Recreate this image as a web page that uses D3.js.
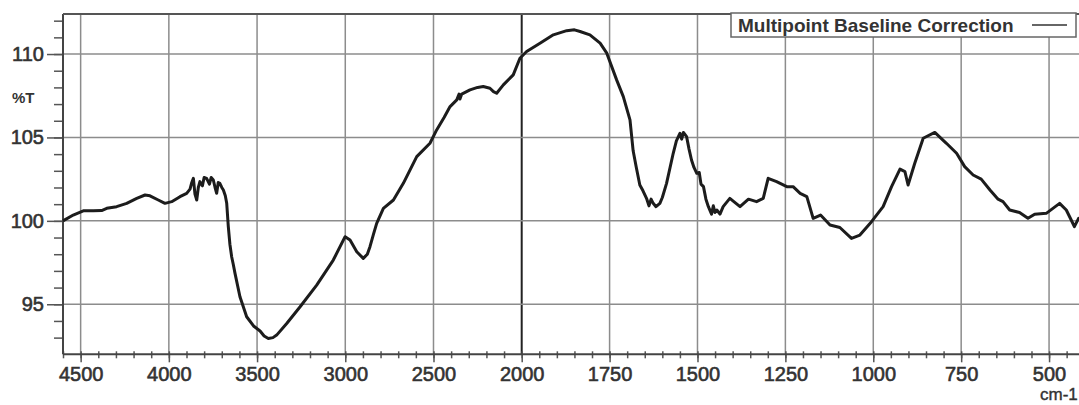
<!DOCTYPE html>
<html><head><meta charset="utf-8">
<script src="https://cdn.jsdelivr.net/npm/d3@7"></script>
<style>
html,body{margin:0;padding:0;background:#fff;}
svg{display:block;font-family:"Liberation Sans",Arial,sans-serif;}
</style></head>
<body><svg id="c" width="1079" height="405"></svg>
<script>
const wavenumber = [4600,4542,4485,4428,4381,4352,4296,4239,4182,4135,4107,4060,4022,3984,3937,3899,3880,3870,3861,3852,3842,3833,3824,3810,3800,3786,3770,3760,3748,3738,3729,3720,3711,3700,3691,3680,3672,3663,3654,3644,3635,3625,3597,3559,3520,3483,3460,3436,3410,3389,3332,3256,3162,3068,3001,2973,2935,2898,2875,2860,2840,2822,2784,2727,2671,2595,2520,2482,2440,2406,2368,2355,2350,2340,2293,2250,2218,2180,2160,2142,2104,2048,2010,1986,1948,1910,1872,1850,1834,1806,1777,1758,1730,1711,1692,1683,1674,1664,1655,1645,1638,1632,1626,1618,1607,1600,1588,1569,1560,1550,1545,1540,1531,1524,1517,1510,1502,1495,1490,1483,1476,1469,1460,1455,1450,1445,1436,1427,1408,1379,1355,1332,1313,1299,1275,1246,1228,1208,1189,1171,1150,1123,1095,1062,1038,1005,972,948,924,910,901,882,858,825,792,763,740,716,693,668,645,631,612,584,560,541,508,489,470,451,437,428,416,412];
const transmittance = [100.0,100.35,100.6,100.6,100.62,100.75,100.85,101.05,101.35,101.55,101.5,101.25,101.05,101.15,101.45,101.65,101.9,102.3,102.55,101.6,101.25,102.0,102.35,102.1,102.6,102.55,102.2,102.6,102.45,102.0,101.65,102.3,102.25,102.0,101.85,101.5,101.05,99.65,98.6,97.85,97.4,96.85,95.45,94.25,93.7,93.4,93.1,92.95,93.0,93.15,93.85,94.85,96.15,97.65,99.05,98.85,98.15,97.75,98.0,98.45,99.2,99.85,100.75,101.25,102.25,103.85,104.65,105.45,106.2,106.85,107.25,107.6,107.3,107.6,107.85,108.0,108.05,107.95,107.75,107.65,108.15,108.75,109.75,110.15,110.65,111.15,111.4,111.45,111.35,111.15,110.65,110.05,108.45,107.45,106.05,104.2,103.2,102.15,101.8,101.35,100.9,101.3,101.05,100.85,101.05,101.4,102.25,104.05,104.8,105.25,104.9,105.3,105.05,104.3,103.65,103.2,102.85,102.9,102.2,102.05,101.3,100.85,100.4,100.9,100.5,100.65,100.4,100.85,101.35,100.85,101.3,101.15,101.35,102.55,102.35,102.05,102.05,101.65,101.45,100.15,100.35,99.75,99.6,98.95,99.15,99.95,100.85,102.05,103.1,102.95,102.15,103.45,104.95,105.3,104.65,104.05,103.25,102.75,102.5,101.85,101.3,101.15,100.65,100.5,100.15,100.4,100.45,100.75,101.05,100.65,100.05,99.65,100.15,100.1];
const xTickLabels = [4500,4000,3500,3000,2500,2000,1750,1500,1250,1000,750,500];
const yTickLabels = [95,100,105,110];
const legendLabel = "Multipoint Baseline Correction";
const yAxisTitle = "%T";
const xAxisTitle = "cm-1";

const svg = d3.select("#c");
const L = 63, T = 14, B = 354.3, R = 1080;
const x = d3.scaleLinear().domain([4600, 2000, 412]).range([L, 521.7, R]);
const y = d3.scaleLinear().domain([92, 112.4]).range([B, T]);

const gridCol = "#8c8c8c";
// grid
svg.append("g").selectAll("line").data(xTickLabels).join("line")
  .attr("x1", d => x(d)).attr("x2", d => x(d)).attr("y1", T).attr("y2", B)
  .attr("stroke", d => d === 2000 ? "#222" : gridCol)
  .attr("stroke-width", d => d === 2000 ? 2 : 1.5);
svg.append("g").selectAll("line").data(yTickLabels).join("line")
  .attr("x1", L).attr("x2", R).attr("y1", d => y(d)).attr("y2", d => y(d))
  .attr("stroke", gridCol).attr("stroke-width", 1.5);

// minor ticks
const yMinor = d3.range(93, 113, 1);
const xMinor = d3.range(4600, 2000, -100).concat(d3.range(2000, 412, -50));

const yAxisMinor = svg.append("g").attr("transform", `translate(${L},0)`)
  .call(d3.axisLeft(y).tickValues(yMinor).tickSize(9).tickFormat(""));
const yAxis = svg.append("g").attr("transform", `translate(${L},0)`)
  .call(d3.axisLeft(y).tickValues(yTickLabels).tickSize(16).tickPadding(3).tickFormat(d3.format("d")));
const xAxisMinor = svg.append("g").attr("transform", `translate(0,${B})`)
  .call(d3.axisBottom(x).tickValues(xMinor).tickSize(4).tickFormat(""));
const xAxisMinorUp = svg.append("g").attr("transform", `translate(0,${B})`)
  .call(d3.axisTop(x).tickValues(xMinor).tickSize(3).tickFormat(""));
const xAxis = svg.append("g").attr("transform", `translate(0,${B})`)
  .call(d3.axisBottom(x).tickValues(xTickLabels).tickSize(8).tickPadding(5).tickFormat(d3.format("d")));

[yAxisMinor, yAxis, xAxisMinor, xAxisMinorUp, xAxis].forEach(g => {
  g.select(".domain").remove();
  g.selectAll(".tick line").attr("stroke", "#555").attr("stroke-width", 1.5);
});
[yAxis, xAxis].forEach(g => g.selectAll("text").attr("font-size", 20).attr("fill", "#333")
  .attr("font-family", "'Liberation Sans',Arial,sans-serif").attr("font-weight", "normal")
  .attr("stroke", "#333").attr("stroke-width", 0.6));

// frame
svg.append("line").attr("x1", L).attr("x2", L).attr("y1", T).attr("y2", B).attr("stroke", "#444").attr("stroke-width", 2);
svg.append("line").attr("x1", L).attr("x2", R).attr("y1", B).attr("y2", B).attr("stroke", "#444").attr("stroke-width", 2);
svg.append("line").attr("x1", L).attr("x2", R).attr("y1", T).attr("y2", T).attr("stroke", "#555").attr("stroke-width", 2);

// axis titles
svg.append("text").attr("x", 12).attr("y", 103).text(yAxisTitle)
  .attr("font-size", 15).attr("font-weight", "bold").attr("fill", "#333");
svg.append("text").attr("x", 1040).attr("y", 400).text(xAxisTitle)
  .attr("font-size", 17).attr("fill", "#333").attr("stroke", "#333").attr("stroke-width", 0.4);

// spectrum
const pts = wavenumber.map((w, i) => [w, transmittance[i]]);
svg.append("path").datum(pts)
  .attr("fill", "none").attr("stroke", "#1c1c1c").attr("stroke-width", 3)
  .attr("stroke-linejoin", "round")
  .attr("d", d3.line().x(d => x(d[0])).y(d => y(d[1])));

// legend
const lg = svg.append("g");
lg.append("rect").attr("x", 731).attr("y", 13).attr("width", 345).attr("height", 24)
  .attr("fill", "#fff").attr("stroke", "#666").attr("stroke-width", 1.5);
lg.append("text").attr("x", 738).attr("y", 32).text(legendLabel)
  .attr("font-size", 19).attr("fill", "#333").attr("font-weight", "bold");
lg.append("line").attr("x1", 1032).attr("x2", 1067).attr("y1", 25).attr("y2", 25)
  .attr("stroke", "#333").attr("stroke-width", 1.5);
</script></body></html>
